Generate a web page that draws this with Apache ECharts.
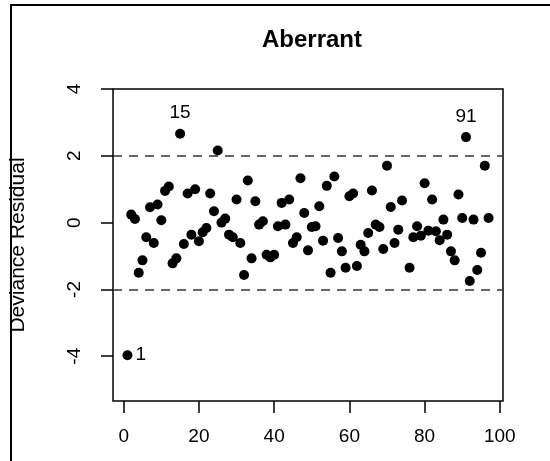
<!DOCTYPE html>
<html>
<head>
<meta charset="utf-8">
<script src="https://cdn.jsdelivr.net/npm/echarts@6/dist/echarts.min.js"></script>
<style>
  html, body { margin: 0; padding: 0; background: #fff; }
  #chart { width: 550px; height: 461px; }
</style>
</head>
<body>
<div id="chart"></div>
<script>
var obsIndex = [1, 2, 3, 4, 5, 6, 7, 8, 9, 10, 11, 12, 13, 14, 15, 16, 17, 18, 19, 20,
  21, 22, 23, 24, 25, 26, 27, 28, 29, 30, 31, 32, 33, 34, 35, 36, 37, 38, 39, 40,
  41, 42, 43, 44, 45, 46, 47, 48, 49, 50, 51, 52, 53, 54, 55, 56, 57, 58, 59, 60,
  61, 62, 63, 64, 65, 66, 67, 68, 69, 70, 71, 72, 73, 74, 76, 77, 78, 79, 80,
  81, 82, 83, 84, 85, 86, 87, 88, 89, 90, 91, 92, 93, 94, 95, 96, 97];
var devResid = [-3.97, 0.24, 0.11, -1.50, -1.13, -0.44, 0.46, -0.61, 0.54, 0.07,
  0.95, 1.08, -1.22, -1.07, 2.66, -0.64, 0.87, -0.36, 1.00, -0.56,
  -0.29, -0.16, 0.87, 0.34, 2.16, 0.00, 0.12, -0.36, -0.44, 0.69,
  -0.61, -1.57, 1.26, -1.07, 0.64, -0.06, 0.04, -0.96, -1.04, -0.96,
  -0.11, 0.59, -0.06, 0.69, -0.61, -0.44, 1.33, 0.29, -0.83, -0.13,
  -0.11, 0.49, -0.54, 1.10, -1.50, 1.38, -0.46, -0.86, -1.35, 0.79,
  0.87, -1.30, -0.66, -0.86, -0.31, 0.96, -0.06, -0.13, -0.79, 1.70,
  0.47, -0.61, -0.21, 0.66, -1.35, -0.44, -0.11, -0.39, 1.18,
  -0.24, 0.69, -0.26, -0.53, 0.09, -0.36, -0.86, -1.13, 0.84, 0.14,
  2.56, -1.75, 0.09, -1.42, -0.90, 1.70, 0.14];
var xTicks = [0, 20, 40, 60, 80, 100];
var yTicks = [-4, -2, 0, 2, 4];
var cutoffs = [2, -2];
// labelled outliers and where the label sits
var flagged = { 1: 'right', 15: 'top', 91: 'top' };

var points = obsIndex.map(function (x, i) {
  var item = { value: [x, devResid[i]] };
  if (flagged[x]) {
    item.label = {
      show: true,
      position: flagged[x],
      distance: flagged[x] === 'top' ? 6 : 3,
      formatter: String(x)
    };
  }
  return item;
});

var chart = echarts.init(document.getElementById('chart'));
chart.setOption({
  animation: false,
  title: {
    text: 'Aberrant',
    left: 307,
    textAlign: 'center',
    top: 23,
    textStyle: { fontFamily: 'Liberation Sans', fontSize: 24, fontWeight: 'bold', color: '#000' }
  },
  graphic: [{
    type: 'polyline',
    shape: { points: [[11, 470], [11, 5], [560, 5]] },
    style: { stroke: '#000', lineWidth: 2, fill: null }
  }],
  grid: {
    left: 111, right: 47, top: 89, bottom: 60,
    show: true, borderColor: '#000', borderWidth: 1.5, backgroundColor: 'transparent'
  },
  xAxis: {
    type: 'value',
    min: -2.84, max: 100.84,
    axisLine: { show: false, onZero: false },
    splitLine: { show: false },
    axisTick: { show: true, customValues: xTicks, length: 12, lineStyle: { color: '#000', width: 1.5 } },
    axisLabel: { customValues: xTicks, margin: 26, fontFamily: 'Liberation Sans', fontSize: 19, color: '#000' }
  },
  yAxis: {
    type: 'value',
    min: -5.34, max: 4.0,
    name: 'Deviance Residual',
    nameLocation: 'middle',
    nameGap: 84,
    nameTextStyle: { fontFamily: 'Liberation Sans', fontSize: 21, color: '#000' },
    axisLine: { show: false, onZero: false },
    splitLine: { show: false },
    axisTick: { show: true, customValues: yTicks, length: 12, lineStyle: { color: '#000', width: 1.5 } },
    axisLabel: { customValues: yTicks, rotate: 90, margin: 29, fontFamily: 'Liberation Sans', fontSize: 19, color: '#000' }
  },
  series: [{
    type: 'scatter',
    symbol: 'circle',
    symbolSize: 10,
    itemStyle: { color: '#000', opacity: 1 },
    label: { fontFamily: 'Liberation Sans', fontSize: 19, color: '#000' },
    data: points,
    markLine: {
      silent: true,
      symbol: 'none',
      label: { show: false },
      lineStyle: { color: '#333', type: [9, 7], width: 1.5 },
      data: cutoffs.map(function (v) { return { yAxis: v }; })
    }
  }]
});
</script>
</body>
</html>
